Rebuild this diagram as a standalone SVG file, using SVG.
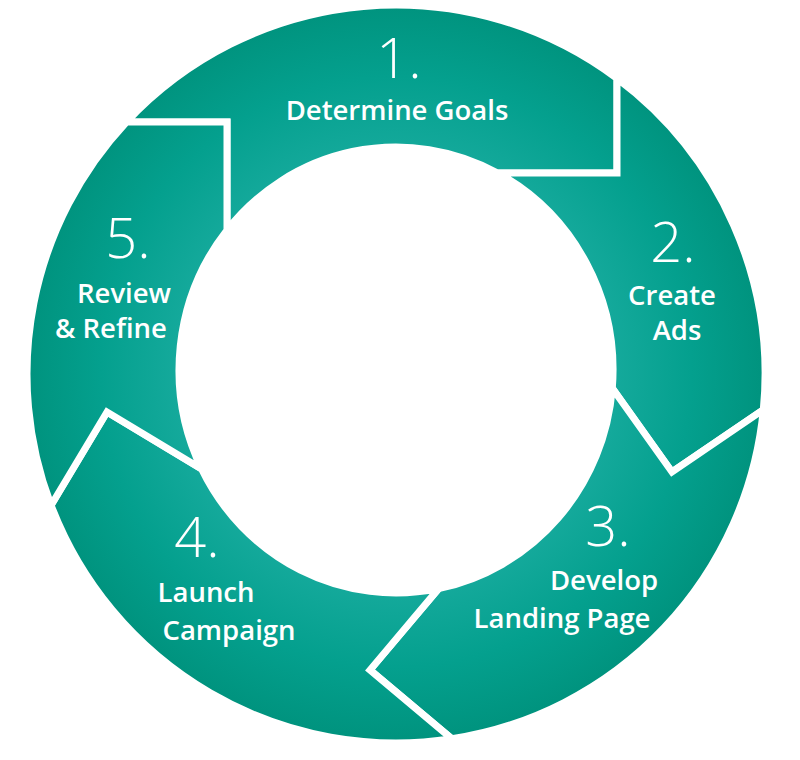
<svg xmlns="http://www.w3.org/2000/svg" width="800" height="760" viewBox="0 0 800 760">
  <defs>
    <radialGradient id="ringGrad" gradientUnits="userSpaceOnUse" cx="396" cy="372" r="369">
      <stop offset="0" stop-color="#2bb5a8"/>
      <stop offset="0.6" stop-color="#14a99b"/>
      <stop offset="0.8" stop-color="#04a08e"/>
      <stop offset="1" stop-color="#00937e"/>
    </radialGradient>
  </defs>
  <style>
    .seg { fill: url(#ringGrad); stroke: #ffffff; stroke-width: 7; stroke-linejoin: miter; }
    .num { font-family: "Open Sans", "Noto Sans", sans-serif; font-weight: 300; font-size: 56px; fill: #ffffff; text-anchor: middle; }
    .lbl { font-family: "Open Sans", "Noto Sans", sans-serif; font-weight: 600; font-size: 27.5px; fill: #ffffff; text-anchor: middle; }
  </style>
  <rect width="800" height="760" fill="#ffffff"/>

  <g id="step1">
    <path class="seg" d="M126.5,122 A369,369 0 0 1 617,78.5 L617,173 L497.7,173 A217,223 0 0 0 227,230.1 L227,122 Z"/>
    <text class="num" x="399" y="78">1.</text>
    <text class="lbl" x="397" y="120">Determine Goals</text>
  </g>

  <g id="step2">
    <path class="seg" d="M617,78.5 A369,369 0 0 1 763.3,409.8 L672,472 L612.3,388.2 A217,223 0 0 0 497.7,173 L617,173 Z"/>
    <text class="num" x="673" y="262">2.</text>
    <text class="lbl" x="672" y="305">Create</text>
    <text class="lbl" x="677" y="340">Ads</text>
  </g>

  <g id="step3">
    <path class="seg" d="M763.3,409.8 A369,369 0 0 1 451.8,738.8 L370,670 L438.7,588.6 A217,223 0 0 0 612.3,388.2 L672,472 Z"/>
    <text class="num" x="608" y="546">3.</text>
    <text class="lbl" x="604" y="590">Develop</text>
    <text class="lbl" x="562" y="628">Landing Page</text>
  </g>

  <g id="step4">
    <path class="seg" d="M451.8,738.8 A369,369 0 0 1 51.1,505.2 L107,412 L201.6,469 A217,223 0 0 0 438.7,588.6 L370,670 Z"/>
    <text class="num" x="197" y="557">4.</text>
    <text class="lbl" x="206" y="602">Launch</text>
    <text class="lbl" x="229" y="640">Campaign</text>
  </g>

  <g id="step5">
    <path class="seg" d="M51.1,505.2 A369,369 0 0 1 126.5,122 L227,122 L227,230.1 A217,223 0 0 0 201.6,469 L107,412 Z"/>
    <text class="num" x="128" y="258">5.</text>
    <text class="lbl" x="124" y="303">Review</text>
    <text class="lbl" x="111" y="338">&amp; Refine</text>
  </g>

  <g id="connectors"/>
</svg>
